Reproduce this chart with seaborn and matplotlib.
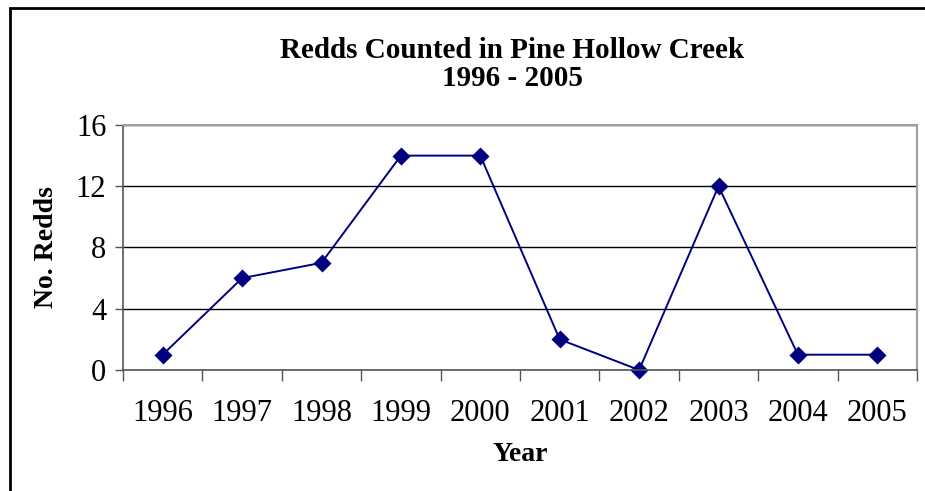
import matplotlib
matplotlib.use("Agg")
import matplotlib.pyplot as plt
import matplotlib.patches as mpatches
import numpy as np
import pandas as pd
import seaborn as sns

years = ["1996", "1997", "1998", "1999", "2000", "2001", "2002", "2003", "2004", "2005"]
redds = [1, 6, 7, 14, 14, 2, 0, 12, 1, 1]
y_ticks = [0, 4, 8, 12, 16]

sns.set_theme(style="white")
plt.rcParams["font.family"] = ["Liberation Serif", "DejaVu Serif"]
plt.rcParams["text.color"] = "black"
plt.rcParams["axes.labelcolor"] = "black"

df = pd.DataFrame({"Year": years, "Redds": redds})

fig = plt.figure(figsize=(9.25, 4.91), dpi=100)
ax = fig.add_axes([123 / 925, 1 - 370 / 491, (917 - 123) / 925, (370 - 125) / 491])

sns.pointplot(data=df, x="Year", y="Redds", color="#000080", markers="D",
              markersize=8.5, linewidth=1.4, ax=ax)
for artist in ax.lines + ax.collections:
    artist.set_clip_on(False)

ax.set_xlim(-0.5, len(years) - 0.5)
ax.set_ylim(0, 16)
ax.set_yticks(y_ticks)
ax.set_xticks(range(len(years)))
ax.set_xticklabels(years)
ax.set_xticks(np.arange(-0.5, len(years)), minor=True)

ax.tick_params(axis="x", which="major", length=0, pad=21, labelsize=22, labelcolor="black")
ax.tick_params(axis="x", which="minor", length=8, width=1, color="#555555", direction="out", bottom=True)
ax.tick_params(axis="y", which="major", length=6, width=1, color="#555555", direction="out",
               left=True, labelsize=22, pad=6, labelcolor="black")

ax.yaxis.grid(True, color="black", linewidth=1)
ax.xaxis.grid(False)
ax.set_axisbelow(True)

for side in ("top", "right"):
    ax.spines[side].set_color("#a0a0a0")
    ax.spines[side].set_linewidth(1.5)
for side in ("left", "bottom"):
    ax.spines[side].set_color("#555555")
    ax.spines[side].set_linewidth(1.2)

ax.set_xlabel("Year", fontsize=20, fontweight="bold", labelpad=10)
ax.set_ylabel("No. Redds", fontsize=20, fontweight="bold", labelpad=12)

fig.text(512 / 925, 1 - 50 / 491, "Redds Counted in Pine Hollow Creek", ha="center", va="center",
         fontsize=21, fontweight="bold")
fig.text(512 / 925, 1 - 79 / 491, "1996 - 2005", ha="center", va="center",
         fontsize=21, fontweight="bold")

# outer chart frame
frame = mpatches.Rectangle((10 / 925, -0.1), 1.2, 1.1 - 8 / 491, transform=fig.transFigure,
                           fill=False, edgecolor="black", linewidth=2, clip_on=False)
fig.patches.append(frame)

fig.savefig("out.png", dpi=100)
